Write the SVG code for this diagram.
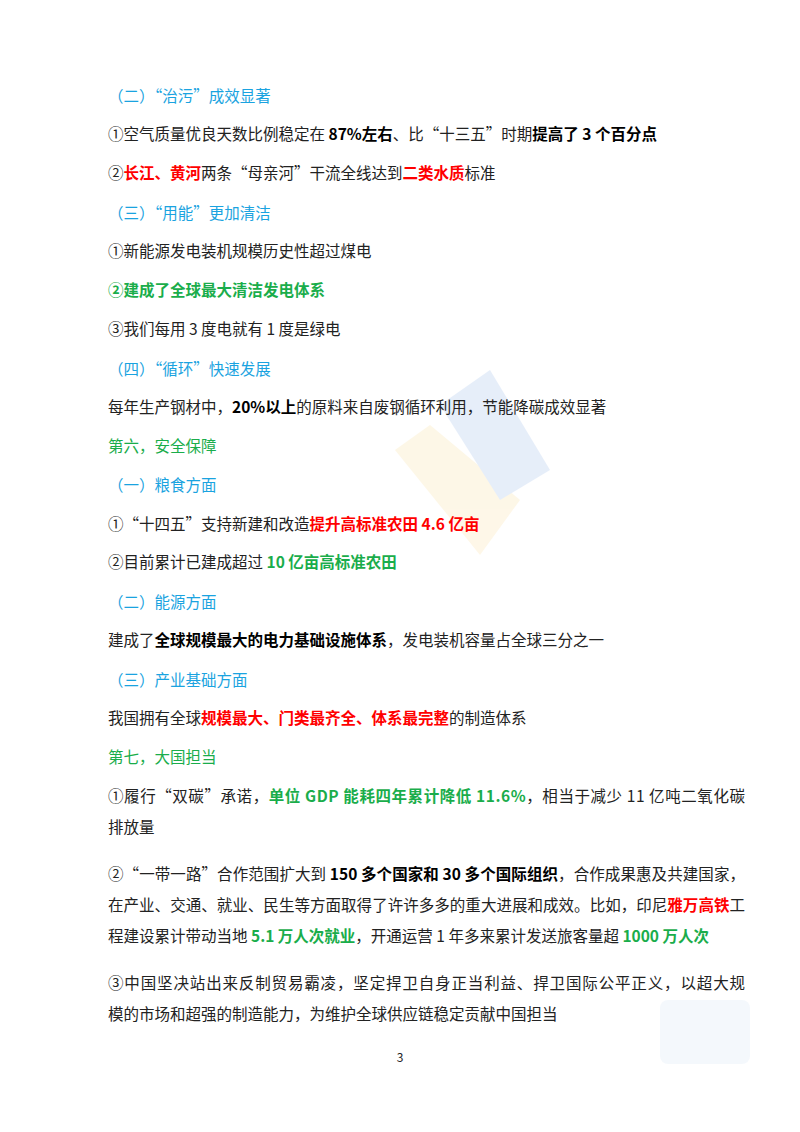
<svg xmlns="http://www.w3.org/2000/svg" width="800" height="1132" viewBox="0 0 800 1132">
<style>
text{font-family:"Noto Sans CJK SC","Liberation Sans",sans-serif;font-size:15.5px;fill:#222}
.h{fill:#1aa3e0}
.g{fill:#1aad4b}
.gb{fill:#1aad4b;font-weight:bold}
.r{fill:#ff0000;font-weight:bold}
.b{font-weight:bold;fill:#000}
</style>
<rect width="800" height="1132" fill="#fff"/>
<g id="watermark" opacity="0.12">
<path d="M395 450 L430 425 L520 500 L480 555 Z" fill="#f5c040"/>
<path d="M440 405 L490 370 L550 470 L500 500 Z" fill="#3a7bd5"/>
<rect x="660" y="1000" width="90" height="64" rx="8" fill="#a8c4ea"/>
</g>
<g id="content">
<text x="108" y="102" class="h">（二）“治污”成效显著</text>
<text x="108" y="140">①空气质量优良天数比例稳定在 <tspan class="b">87%左右</tspan>、比“十三五”时期<tspan class="b">提高了 3 个百分点</tspan></text>
<text x="108" y="179">②<tspan class="r">长江、黄河</tspan>两条“母亲河”干流全线达到<tspan class="r">二类水质</tspan>标准</text>
<text x="108" y="219" class="h">（三）“用能”更加清洁</text>
<text x="108" y="257">①新能源发电装机规模历史性超过煤电</text>
<text x="108" y="296" class="gb">②建成了全球最大清洁发电体系</text>
<text x="108" y="335">③我们每用 3 度电就有 1 度是绿电</text>
<text x="108" y="375" class="h">（四）“循环”快速发展</text>
<text x="108" y="413">每年生产钢材中，<tspan class="b">20%以上</tspan>的原料来自废钢循环利用，节能降碳成效显著</text>
<text x="108" y="452" class="g">第六，安全保障</text>
<text x="108" y="491" class="h">（一）粮食方面</text>
<text x="108" y="530">①“十四五”支持新建和改造<tspan class="r">提升高标准农田 4.6 亿亩</tspan></text>
<text x="108" y="568">②目前累计已建成超过 <tspan class="gb">10 亿亩高标准农田</tspan></text>
<text x="108" y="608" class="h">（二）能源方面</text>
<text x="108" y="646">建成了<tspan class="b">全球规模最大的电力基础设施体系</tspan>，发电装机容量占全球三分之一</text>
<text x="108" y="686" class="h">（三）产业基础方面</text>
<text x="108" y="724">我国拥有全球<tspan class="r">规模最大、门类最齐全、体系最完整</tspan>的制造体系</text>
<text x="108" y="763" class="g">第七，大国担当</text>
<text x="108" y="802" textLength="637" lengthAdjust="spacing">①履行“双碳”承诺，<tspan class="gb">单位 GDP 能耗四年累计降低 11.6%</tspan>，相当于减少 11 亿吨二氧化碳</text>
<text x="108" y="833">排放量</text>
<text x="108" y="880" textLength="637" lengthAdjust="spacing">②“一带一路”合作范围扩大到 <tspan class="b">150 多个国家和 30 多个国际组织</tspan>，合作成果惠及共建国家，</text>
<text x="108" y="911" textLength="637" lengthAdjust="spacing">在产业、交通、就业、民生等方面取得了许许多多的重大进展和成效。比如，印尼<tspan class="r">雅万高铁</tspan>工</text>
<text x="108" y="942">程建设累计带动当地 <tspan class="gb">5.1 万人次就业</tspan>，开通运营 1 年多来累计发送旅客量超 <tspan class="gb">1000 万人次</tspan></text>
<text x="108" y="989" textLength="637" lengthAdjust="spacing">③中国坚决站出来反制贸易霸凌，坚定捍卫自身正当利益、捍卫国际公平正义，以超大规</text>
<text x="108" y="1020">模的市场和超强的制造能力，为维护全球供应链稳定贡献中国担当</text>
<text x="400" y="1062" text-anchor="middle" style="font-size:12px">3</text>
</g>
</svg>
